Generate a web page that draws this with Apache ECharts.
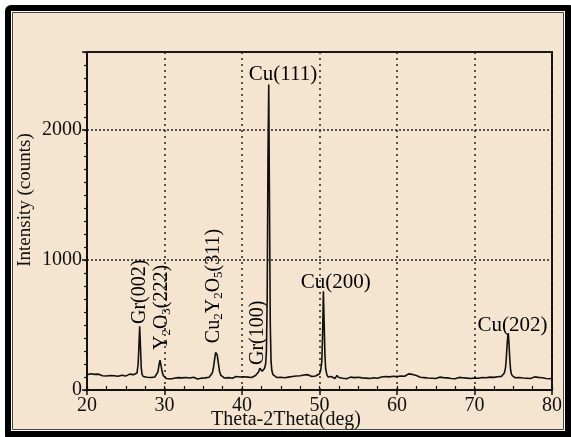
<!DOCTYPE html>
<html>
<head>
<meta charset="utf-8">
<script src="https://cdn.jsdelivr.net/npm/echarts@6/dist/echarts.min.js"></script>
<style>html,body{margin:0;padding:0;background:#fff;}#c{width:571px;height:437px;}</style>
</head>
<body>
<div id="c"></div>
<script>
// ---- data ----
const xTicks = [20, 30, 40, 50, 60, 70, 80];
const yTicks = [0, 1000, 2000];
const xAxisTitle = 'Theta-2Theta(deg)';
const yAxisTitle = 'Intensity (counts)';
// [2theta (deg), intensity (counts)]
const pattern = [
[20,118],[20.25,108],[20.5,125],[20.75,112],[21,120],[21.25,105],[21.5,122],[21.75,114],[22,110],[22.25,124],
[22.5,108],[22.75,118],[23,112],[23.25,126],[23.5,110],[23.75,117],[24,106],[24.25,121],[24.5,113],[24.75,119],
[25,107],[25.25,116],[25.5,122],[25.75,109],[26,118],[26.25,112],[26.45,130],[26.6,200],[26.7,340],[26.8,490],
[26.9,330],[27,170],[27.1,120],[27.25,104],[27.5,112],[27.75,98],[28,108],[28.25,96],[28.5,105],[28.75,100],
[29,112],[29.15,140],[29.3,195],[29.42,230],[29.55,190],[29.7,140],[29.85,110],[30,96],[30.25,88],[30.5,97],
[30.75,85],[31,94],[31.25,90],[31.5,82],[31.75,95],[32,88],[32.25,93],[32.5,84],[32.75,96],[33,89],
[33.25,92],[33.5,86],[33.75,98],[34,90],[34.25,84],[34.5,95],[34.75,91],[35,99],[35.25,93],[35.5,102],
[35.75,98],[36,110],[36.15,128],[36.3,165],[36.45,230],[36.6,290],[36.7,300],[36.8,270],[36.95,205],[37.1,145],
[37.25,115],[37.5,100],[37.75,92],[38,104],[38.25,95],[38.5,101],[38.75,90],[39,98],[39.25,104],[39.5,93],
[39.75,100],[40,95],[40.25,102],[40.5,92],[40.75,99],[41,106],[41.25,96],[41.5,103],[41.75,112],[42,125],
[42.15,140],[42.3,168],[42.45,160],[42.6,145],[42.75,150],[42.9,165],[43.05,200],[43.15,300],[43.25,700],[43.35,1780],
[43.45,2350],[43.55,1400],[43.65,500],[43.75,220],[43.85,150],[44,118],[44.25,104],[44.5,96],[44.75,108],[45,98],
[45.25,103],[45.5,94],[45.75,106],[46,99],[46.25,92],[46.5,104],[46.75,97],[47,108],[47.25,100],[47.5,110],
[47.75,102],[48,115],[48.25,106],[48.5,118],[48.75,110],[49,104],[49.25,112],[49.5,108],[49.75,118],[50,125],
[50.15,150],[50.3,220],[50.4,430],[50.5,760],[50.6,520],[50.7,270],[50.8,160],[50.95,118],[51.1,100],[51.25,92],
[51.5,104],[51.75,95],[52,88],[52.25,112],[52.5,96],[52.75,104],[53,90],[53.25,97],[53.5,86],[53.75,94],
[54,99],[54.25,88],[54.5,95],[54.75,90],[55,98],[55.25,86],[55.5,93],[55.75,100],[56,91],[56.25,96],
[56.5,88],[56.75,99],[57,94],[57.25,102],[57.5,90],[57.75,96],[58,100],[58.25,92],[58.5,104],[58.75,97],
[59,101],[59.25,95],[59.5,106],[59.75,99],[60,103],[60.25,98],[60.5,108],[60.75,112],[61,106],[61.25,118],
[61.5,124],[61.75,115],[62,120],[62.25,108],[62.5,112],[62.75,102],[63,98],[63.25,104],[63.5,95],[63.75,100],
[64,92],[64.25,98],[64.5,90],[64.75,96],[65,88],[65.25,94],[65.5,99],[65.75,90],[66,95],[66.25,87],
[66.5,93],[66.75,98],[67,89],[67.25,94],[67.5,86],[67.75,92],[68,97],[68.25,88],[68.5,94],[68.75,84],
[69,91],[69.25,96],[69.5,88],[69.75,102],[70,92],[70.25,98],[70.5,90],[70.75,104],[71,96],[71.25,100],
[71.5,94],[71.75,106],[72,99],[72.25,104],[72.5,97],[72.75,108],[73,102],[73.25,110],[73.5,105],[73.7,115],
[73.85,130],[74,170],[74.1,240],[74.2,340],[74.3,420],[74.36,438],[74.45,360],[74.55,240],[74.65,160],[74.75,125],
[74.9,108],[75,100],[75.25,94],[75.5,102],[75.75,96],[76,104],[76.25,92],[76.5,98],[76.75,90],[77,97],
[77.25,88],[77.5,95],[77.75,101],[78,91],[78.25,97],[78.5,89],[78.75,94],[79,99],[79.25,88],[79.5,95],
[79.75,86],[80,92]
];
// peak labels: text, anchor in data coordinates, vertical?
const peakNames  = ['Gr(002)', 'Y2O3(222)', 'Cu2Y2O5(311)', 'Gr(100)', 'Cu(111)', 'Cu(200)', 'Cu(202)'];
const peakLabelX = [26.77, 29.68, 36.35, 42.0, 45.3, 52.1, 74.9];
const peakLabelY = [755, 635, 800, 440, 2430, 830, 500];
const peakVertical = [true, true, true, true, false, false, false];

// ---- chart ----
const FONT = '"Liberation Serif", "Times New Roman", serif';
const BEIGE = '#F5E4D0';

function richLabel(s) {
  let out = '', buf = '';
  for (let i = 0; i < s.length; i++) {
    const c = s[i];
    if (/\d/.test(c) && i > 0 && /[A-Za-z]/.test(s[i - 1])) {
      if (buf) { out += '{n|' + buf + '}'; buf = ''; }
      out += '{s|' + c + '}';
    } else buf += c;
  }
  if (buf) out += '{n|' + buf + '}';
  return out;
}

const labelData = peakNames.map((t, i) => ({
  name: t,
  value: [peakLabelX[i], peakLabelY[i]],
  label: {
    rotate: peakVertical[i] ? 90 : 0,
    rich: {
      n: { fontFamily: FONT, fontSize: peakVertical[i] ? 20 : 21, color: '#000', lineHeight: 22 },
      s: { fontFamily: FONT, fontSize: 13, color: '#000', verticalAlign: 'bottom', lineHeight: 16 }
    }
  }
}));

const chart = echarts.init(document.getElementById('c'), null, { renderer: 'canvas' });
const axisLineStyle = { color: '#111', width: 2 };
chart.setOption({
  backgroundColor: '#fff',
  animation: false,
  graphic: [
    { type: 'rect', z: -100, shape: { x: 5, y: 5, width: 570, height: 436, r: 6 }, style: { fill: '#000' } },
    { type: 'rect', z: -99, shape: { x: 11, y: 11, width: 554, height: 420 }, style: { fill: '#fff' } },
    { type: 'rect', z: -98, shape: { x: 12.5, y: 12.5, width: 551, height: 417 }, style: { fill: BEIGE, stroke: '#444', lineWidth: 1 } },
    { type: 'text', z: 100, x: 25, y: 200, rotation: Math.PI / 2,
      style: { text: yAxisTitle, x: 0, y: 0, font: '19px ' + FONT, fill: '#111', textAlign: 'center', textVerticalAlign: 'middle' } },
    { type: 'text', z: 100, x: 286, y: 420,
      style: { text: xAxisTitle, x: 0, y: 0, font: '20px ' + FONT, fill: '#111', textAlign: 'center', textVerticalAlign: 'middle' } }
  ],
  grid: { left: 87, right: 19, top: 52, bottom: 47, show: true, borderColor: '#111', borderWidth: 2, backgroundColor: 'transparent' },
  xAxis: [
    {
      type: 'value', min: xTicks[0], max: xTicks[xTicks.length - 1], interval: xTicks[1] - xTicks[0], position: 'bottom',
      axisLine: { show: true, lineStyle: axisLineStyle },
      axisTick: { show: true, inside: false, length: 5, lineStyle: { color: '#111', width: 1.5 } },
      axisLabel: { color: '#111', fontFamily: FONT, fontSize: 20, margin: 6 },
      splitLine: { show: true, lineStyle: { color: '#222', width: 1.5, type: [2, 4] } }
    },
    {
      type: 'value', min: xTicks[0], max: xTicks[xTicks.length - 1], interval: 2.5, position: 'bottom',
      axisLine: { show: false },
      axisTick: { show: true, inside: true, length: 4, lineStyle: { color: '#111', width: 1.2 } },
      axisLabel: { show: false },
      splitLine: { show: false }
    }
  ],
  yAxis: [
    {
      type: 'value', min: 0, max: 2600, interval: yTicks[1] - yTicks[0], position: 'left',
      axisLine: { show: true, lineStyle: axisLineStyle },
      axisTick: { show: true, inside: false, length: 5, lineStyle: { color: '#111', width: 1.5 } },
      axisLabel: { color: '#111', fontFamily: FONT, fontSize: 20, margin: 5,
        formatter: v => (yTicks.indexOf(v) >= 0 ? String(v) : '') },
      splitLine: { show: true, lineStyle: { color: '#222', width: 1.5, type: [2, 2] } }
    },
    {
      type: 'value', min: 0, max: 2600, interval: 100, position: 'left',
      axisLine: { show: false },
      axisTick: { show: true, inside: false, length: 3, lineStyle: { color: '#111', width: 1.2 } },
      axisLabel: { show: false },
      splitLine: { show: false }
    }
  ],
  series: [
    {
      type: 'line', data: pattern, xAxisIndex: 0, yAxisIndex: 0,
      showSymbol: false, symbol: 'none', smooth: false,
      lineStyle: { color: '#111', width: 1.6 }, z: 5
    },
    {
      type: 'scatter', data: labelData, xAxisIndex: 0, yAxisIndex: 0,
      symbolSize: 0, silent: true, z: 10,
      itemStyle: { opacity: 1 },
      label: { show: true, position: 'inside', opacity: 1, formatter: p => richLabel(p.name) }
    }
  ]
});
</script>
</body>
</html>
